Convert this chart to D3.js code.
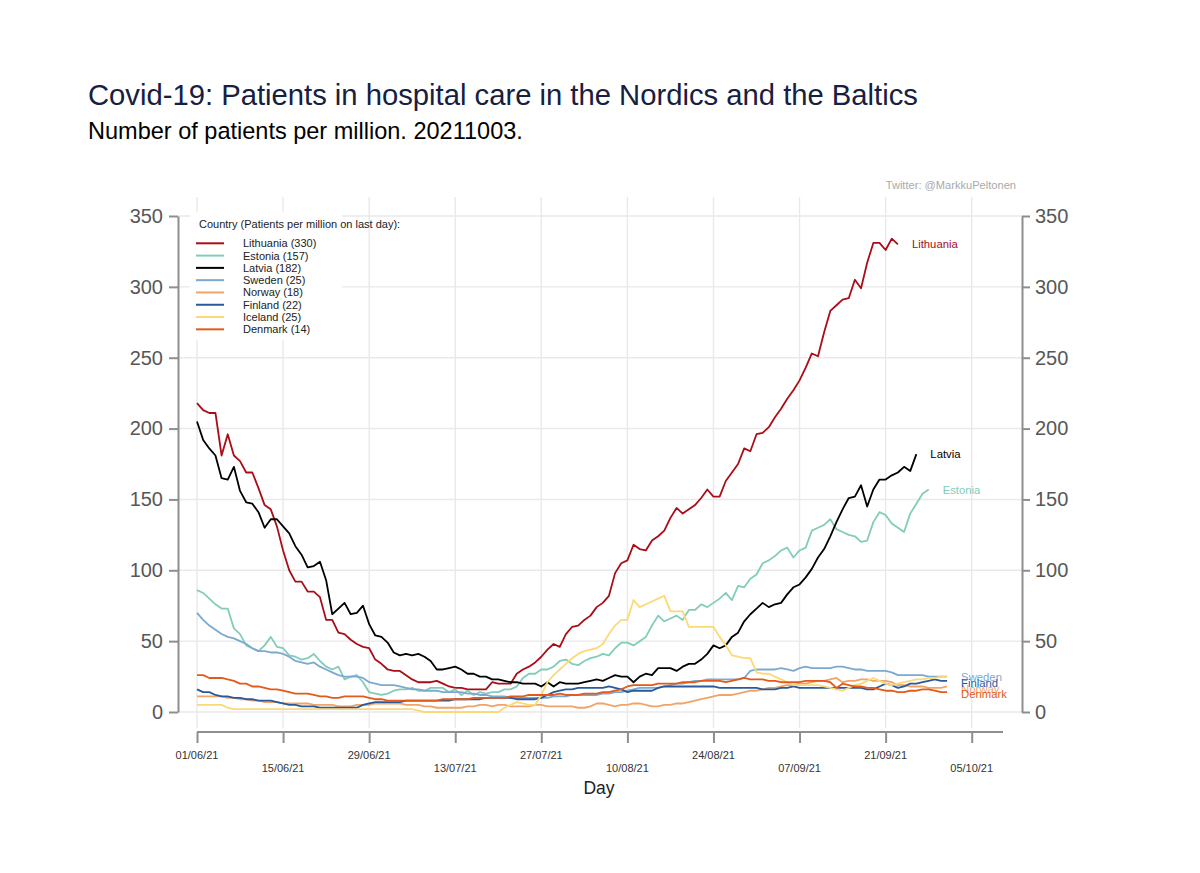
<!DOCTYPE html>
<html><head><meta charset="utf-8">
<script src="https://cdn.jsdelivr.net/npm/d3@7"></script>
<style>
body{margin:0;background:#fff}
svg{display:block}
text{font-family:"Liberation Sans",Arial,Helvetica,sans-serif}
</style>
</head><body>
<svg id="chart" width="1200" height="873"></svg>
<script>
// ---------------- DATA ----------------
const startDate = "2021-06-01"; // first day of every series, one value per day
const countries = ["Lithuania","Estonia","Latvia","Sweden","Norway","Finland","Iceland","Denmark"];
const lastDayValues = [330,157,182,25,18,22,25,14];

const lithuania = [218,213,211,211,181,196,181,177,169,169,
 158,146,143,131,114,100,92,92,85,85,
 81,65,65,56,55,51,48,46,45,37,
 34,30,29,29,26,23,21,21,21,22,
 20,18,17,17,16,16,16,16,21,20,
 20,20,27,30,32,35,39,44,48,46,
 55,60,61,65,68,74,77,82,98,105,
 107,118,115,114,121,124,128,137,144,140,
 143,146,151,157,152,152,163,169,175,186,
 184,196,197,201,208,214,221,227,234,243,
 253,251,268,283,287,291,292,305,299,317,
 331,331,326,334,330];
const estonia = [86,84,80,76,73,73,59,55,47,45,
 43,47,53,46,45,40,39,37,38,41,
 36,32,30,32,23,25,26,21,14,13,
 12,13,15,16,16,17,15,15,17,17,
 17,14,16,12,15,12,14,13,14,14,
 16,16,18,24,27,27,30,30,32,36,
 37,34,33,36,38,39,41,40,45,49,
 49,47,50,53,61,68,64,66,68,65,
 72,72,76,74,77,80,84,79,89,88,
 94,97,105,107,110,114,116,109,114,116,
 128,130,132,136,129,127,125,124,120,121,
 134,141,139,133,130,127,140,147,154,157];
const latvia = [205,192,186,181,165,164,173,156,148,147,
 141,130,136,136,131,126,117,111,102,103,
 106,93,69,73,77,69,70,75,62,54,
 53,49,42,40,41,40,41,39,36,30,
 30,31,32,30,27,27,25,25,23,23,
 22,21,21,20,20,20,18,21,18,21,
 20,20,20,21,22,23,22,24,26,25,
 25,21,25,27,26,31,31,31,29,32,
 34,34,37,41,47,45,47,53,56,64,
 69,73,77,74,76,77,83,88,90,95,
 101,109,115,124,134,143,151,152,160,145,
 157,164,164,167,169,173,170,182];
const sweden = [70,65,61,58,55,53,52,50,48,45,
 43,43,42,42,41,39,36,35,34,35,
 32,30,28,26,25,25,25,24,21,20,
 19,19,19,18,17,16,16,15,15,15,
 14,14,14,14,13,13,12,12,11,11,
 11,10,10,10,10,10,10,10,11,11,
 11,12,12,12,12,12,13,13,14,14,
 15,16,17,17,17,17,18,19,20,20,
 21,22,22,23,23,23,23,23,23,24,
 29,30,30,30,30,31,30,29,31,32,
 31,31,31,31,32,32,31,30,30,29,
 29,29,29,28,26,26,26,26,26,25,
 25,25,25];
const norway = [11,11,11,11,11,10,10,9,9,8,
 8,7,7,7,6,6,6,6,6,5,
 5,5,5,4,4,4,5,5,5,6,
 6,6,6,6,5,5,5,4,4,3,
 3,3,3,3,4,4,5,5,4,5,
 5,4,4,4,4,5,5,4,4,4,
 4,4,3,3,4,6,6,5,4,5,
 5,6,6,5,4,4,5,5,6,6,
 7,8,9,10,11,12,12,12,13,14,
 15,15,16,17,17,18,19,19,20,20,
 21,22,22,23,24,21,22,22,23,23,
 22,22,22,21,19,19,18,18,18,17,
 17,17,18];
const finland = [16,14,14,12,11,11,10,10,9,9,
 8,8,8,7,6,5,5,4,4,4,
 3,3,3,3,3,3,3,5,6,7,
 7,7,7,7,8,8,8,8,8,8,
 8,8,9,9,9,9,9,10,10,10,
 10,10,9,9,9,9,10,12,14,15,
 16,16,17,17,17,17,17,18,17,16,
 14,15,15,15,15,17,18,18,18,18,
 18,18,18,18,18,17,17,17,17,17,
 17,17,16,16,16,17,17,18,17,17,
 17,17,17,17,17,17,17,17,17,16,
 16,18,20,19,17,18,20,20,21,22,
 23,22,22];
const iceland = [5,5,5,5,5,3,2,2,2,2,
 2,2,2,2,2,2,2,2,2,2,
 2,2,2,2,2,2,2,2,2,2,
 2,2,2,2,2,2,1,0,0,0,
 0,0,0,0,0,0,0,0,0,0,
 3,5,7,6,5,5,12,21,26,30,
 34,38,41,43,44,45,48,55,61,65,
 65,79,74,76,78,80,82,71,71,71,
 60,60,60,60,60,53,47,40,39,38,
 38,28,27,27,25,23,21,19,19,19,
 19,19,18,17,16,15,17,19,20,22,
 24,22,20,19,20,21,22,23,23,24,
 24,25,25];
const denmark = [26,26,24,24,24,23,22,20,20,18,
 18,17,16,16,15,14,13,13,13,12,
 11,11,10,10,11,11,11,11,10,9,
 9,8,8,8,8,8,8,8,8,8,
 9,9,9,9,9,10,10,10,10,10,
 10,11,11,11,12,12,12,12,12,13,
 12,12,12,13,13,13,14,14,15,16,
 18,19,19,19,19,20,20,20,20,21,
 21,21,22,22,22,22,21,22,23,24,
 23,23,23,22,22,21,21,21,21,22,
 22,22,22,21,17,20,19,18,18,17,
 17,16,15,15,14,14,15,15,16,16,
 15,14,14];

const seriesValues = [lithuania, estonia, latvia, sweden, norway, finland, iceland, denmark];
const seriesColors = ["#aa0d17","#82cdb9","#000000","#7ba9d0","#f0a468","#285a9c","#fcd977","#e35a1a"];
const endLabelShown = [true,true,true,true,true,true,false,true];
const endLabelNudge = [0,0,0,0,2.5,2,0,2];   // small vertical nudges (px) as in the original

const xTickDates = ["2021-06-01","2021-06-15","2021-06-29","2021-07-13","2021-07-27",
  "2021-08-10","2021-08-24","2021-09-07","2021-09-21","2021-10-05"];
const yTicks = [0,50,100,150,200,250,300,350];

// ---------------- CHART ----------------
const svg = d3.select("#chart");
const parse = d3.timeParse("%Y-%m-%d");
const fmt = d3.timeFormat("%d/%m/%y");
const t0 = parse(startDate);
const tickDates = xTickDates.map(parse);

const x = d3.scaleTime().domain([tickDates[0], tickDates[tickDates.length-1]]).range([197, 971.7]);
const y = d3.scaleLinear().domain([0, 350]).range([712, 216]);

const plotLeft = 179, plotRight = 1022, plotTop = 197, plotBottom = 728;

function fitWidth(sel, w){
  const n = sel.node(); const cur = n.getComputedTextLength();
  const fs = parseFloat(sel.attr("font-size"));
  sel.attr("font-size", (fs * w / cur).toFixed(2));
}
const title = svg.append("text").attr("x", 88).attr("y", 104.5).attr("font-size", 26)
  .attr("fill", "#16203f").text("Covid-19: Patients in hospital care in the Nordics and the Baltics");
fitWidth(title, 830);
const sub = svg.append("text").attr("x", 88).attr("y", 138.5).attr("font-size", 20)
  .attr("fill", "#000").text("Number of patients per million. 20211003.");
fitWidth(sub, 435);
svg.append("text").attr("x", 1016).attr("y", 189).attr("font-size", 11.1).attr("text-anchor", "end")
  .attr("fill", "#a9a9a9").text("Twitter: @MarkkuPeltonen");

// grid
const grid = svg.append("g").attr("stroke", "#e9e9e9").attr("stroke-width", 1.4);
grid.selectAll(".vg").data(tickDates).join("line")
  .attr("x1", d => x(d)).attr("x2", d => x(d)).attr("y1", plotTop).attr("y2", plotBottom);
grid.selectAll(".hg").data(yTicks).join("line")
  .attr("x1", plotLeft).attr("x2", plotRight).attr("y1", d => y(d)).attr("y2", d => y(d));

// legend background
svg.append("rect").attr("x", 190).attr("y", 212).attr("width", 152).attr("height", 128).attr("fill", "#fff");

// series lines
const line = d3.line()
  .x((v, i) => x(d3.timeDay.offset(t0, i)))
  .y(v => y(v));
svg.append("g").selectAll("path").data(seriesValues).join("path")
  .attr("d", d => line(d)).attr("fill", "none")
  .attr("stroke", (d, i) => seriesColors[i]).attr("stroke-width", 1.8)
  .attr("stroke-linejoin", "round");

// end labels
const endG = svg.append("g").attr("font-size", 11.3);
seriesValues.forEach((vals, i) => {
  if (!endLabelShown[i]) return;
  const li = vals.length - 1;
  endG.append("text")
    .attr("x", x(d3.timeDay.offset(t0, li)) + 14)
    .attr("y", y(vals[li]) + 4 + endLabelNudge[i])
    .attr("fill", seriesColors[i]).text(countries[i]);
});

// axes
const axStroke = "#8e8e8e";
const left = svg.append("g").attr("transform", "translate(178,0)")
  .call(d3.axisLeft(y).tickValues(yTicks).tickSize(9).tickSizeOuter(0).tickPadding(6));
const right = svg.append("g").attr("transform", "translate(1022,0)")
  .call(d3.axisRight(y).tickValues(yTicks).tickSize(8).tickSizeOuter(0).tickPadding(5));
[left, right].forEach(g => {
  g.select(".domain").attr("stroke", axStroke).attr("stroke-width", 2);
  g.selectAll(".tick line").attr("stroke", axStroke).attr("stroke-width", 2);
  g.selectAll(".tick text").attr("font-size", 20).attr("fill", "#575757")
    .attr("font-family", '"Liberation Sans",Arial,sans-serif');
});
const bottom = svg.append("g").attr("transform", "translate(0,732)")
  .call(d3.axisBottom(x).tickValues(tickDates).tickSize(11).tickSizeOuter(0).tickFormat(""));
bottom.select(".domain").attr("stroke", axStroke).attr("stroke-width", 2)
  .attr("d", `M${x(tickDates[0])},0H1003`);
bottom.selectAll(".tick line").attr("stroke", axStroke).attr("stroke-width", 2);
svg.append("g").selectAll("text").data(tickDates).join("text")
  .attr("x", d => x(d)).attr("y", (d, i) => i % 2 === 0 ? 759 : 772)
  .attr("text-anchor", "middle").attr("font-size", 11).attr("fill", "#333")
  .text(d => fmt(d));
svg.append("text").attr("x", 599).attr("y", 793.5).attr("text-anchor", "middle")
  .attr("font-size", 17.5).attr("fill", "#222").text("Day");

// legend
const lg = svg.append("g");
lg.append("text").attr("x", 199).attr("y", 228).attr("font-size", 11).attr("fill", "#222")
  .text("Country (Patients per million on last day):");
countries.forEach((c, i) => {
  const yy = 243.3 + i * 12.29;
  lg.append("line").attr("x1", 196).attr("x2", 224).attr("y1", yy).attr("y2", yy)
    .attr("stroke", seriesColors[i]).attr("stroke-width", 2);
  lg.append("text").attr("x", 243).attr("y", yy + 4).attr("font-size", 11).attr("fill", "#222")
    .text(`${c} (${lastDayValues[i]})`);
});
</script>
</body></html>
